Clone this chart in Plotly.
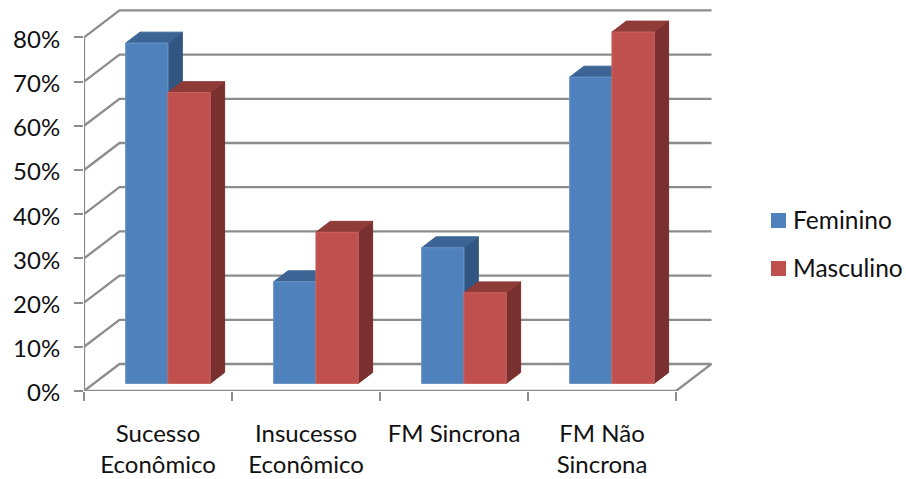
import plotly.graph_objects as go

categories = ["Sucesso<br>Econômico", "Insucesso<br>Econômico", "FM Sincrona", "FM Não<br>Sincrona"]
series_names = ["Feminino", "Masculino"]
feminino = [77.0, 23.0, 30.7, 69.3]
masculino = [65.8, 34.2, 20.5, 79.5]
percent_ticks = [0, 10, 20, 30, 40, 50, 60, 70, 80]

# Oblique projection of the box, in axis units (one category wide, percent high)
PX_X = 148.0
PX_Y = 4.42
WALL_DX = 35.5 / PX_X
WALL_DY = 27.0 / PX_Y
BAR_NEAR = 0.28
BAR_FAR = 0.685
BAR_W = 42.3 / PX_X
BAR_GAP = 31.7 / PX_X
GRID = "#8c8c8c"
FONT = "Lato"
FONT_SIZE = 24
BLUE = "#4f81bd"
RED = "#c0504d"

LEFT, RIGHT, TOP, BOTTOM = 84, 194, 6, 88
W, H = 906, 479

fig = go.Figure()


def line(xs, ys):
    fig.add_trace(go.Scatter(x=xs, y=ys, mode="lines", line=dict(color=GRID, width=2.3),
                             showlegend=False, hoverinfo="skip", cliponaxis=False))


def face(xs, ys, color, edge=None):
    fig.add_trace(go.Scatter(x=xs, y=ys, mode="lines", fill="toself", fillcolor=color,
                             line=dict(color=edge or color, width=1), showlegend=False,
                             hoverinfo="skip", cliponaxis=False))


n = len(categories)
back_right = n + WALL_DX

# Walls: each gridline runs up the side wall and along the back wall
for p in percent_ticks:
    line([0, WALL_DX, back_right], [p, p + WALL_DY, p + WALL_DY])
# Floor edges and the value axis
line([back_right, n, 0], [WALL_DY, 0, 0])
line([0, 0], [0, percent_ticks[-1]])


def bar(left, value, front, top, side, edge):
    x0 = left
    x1 = left + BAR_W
    dx = (BAR_FAR - BAR_NEAR) * WALL_DX
    dy = (BAR_FAR - BAR_NEAR) * WALL_DY
    base = BAR_NEAR * WALL_DY
    peak = base + value
    face([x1, x1 + dx, x1 + dx, x1, x1], [base, base + dy, peak + dy, peak, base], side)
    face([x0, x0 + dx, x1 + dx, x1, x0], [peak, peak + dy, peak + dy, peak, peak], top)
    face([x0, x1, x1, x0, x0], [base, base, peak, peak, base], front, edge)


for i in range(n):
    start = i + BAR_GAP + BAR_NEAR * WALL_DX
    bar(start, feminino[i], BLUE, "#3c6595", "#325682", "#6c95c8")
    bar(start + BAR_W, masculino[i], RED, "#8f3b38", "#79302e", "#c9645f")

# Key on the right: a square swatch and a label per series
annotations = []
shapes = []
for name, color, centre in zip(series_names, (BLUE, RED), (220.5, 268.5)):
    shapes.append(dict(type="rect", xref="paper", yref="paper", line=dict(width=0), fillcolor=color,
                       x0=(771 - LEFT) / (W - LEFT - RIGHT), x1=(786 - LEFT) / (W - LEFT - RIGHT),
                       y0=(H - BOTTOM - centre - 7.5) / (H - TOP - BOTTOM),
                       y1=(H - BOTTOM - centre + 7.5) / (H - TOP - BOTTOM)))
    annotations.append(dict(text=name, xref="paper", yref="paper", showarrow=False,
                            x=(791 - LEFT) / (W - LEFT - RIGHT), xanchor="left",
                            y=(H - BOTTOM - centre + 1) / (H - TOP - BOTTOM), yanchor="middle",
                            font=dict(size=24.5)))

fig.update_layout(
    width=W, height=H,
    margin=dict(l=LEFT, r=RIGHT, t=TOP, b=BOTTOM, autoexpand=False),
    paper_bgcolor="white", plot_bgcolor="white",
    font=dict(family=FONT, size=FONT_SIZE, color="#111111"),
    xaxis=dict(
        range=[0, (W - LEFT - RIGHT) / PX_X], automargin=False,
        tickvals=[i + 0.5 for i in range(n)], ticktext=categories,
        ticks="", showgrid=False, zeroline=False, showline=False,
        tickangle=0, ticklabelstandoff=26,
        minor=dict(tickvals=list(range(n + 1)), ticks="outside", ticklen=9,
                   tickwidth=2, tickcolor=GRID, showgrid=False),
    ),
    yaxis=dict(
        range=[0, (H - TOP - BOTTOM) / PX_Y], automargin=False,
        tickvals=percent_ticks, ticktext=[f"{p}%" for p in percent_ticks],
        ticks="outside", ticklen=9, tickwidth=2, tickcolor=GRID,
        showgrid=False, zeroline=False, showline=False, ticklabelstandoff=9,
        ticklabelshift=2,
    ),
    annotations=annotations,
    shapes=shapes,
    showlegend=False,
)

fig.write_html("out.html")
